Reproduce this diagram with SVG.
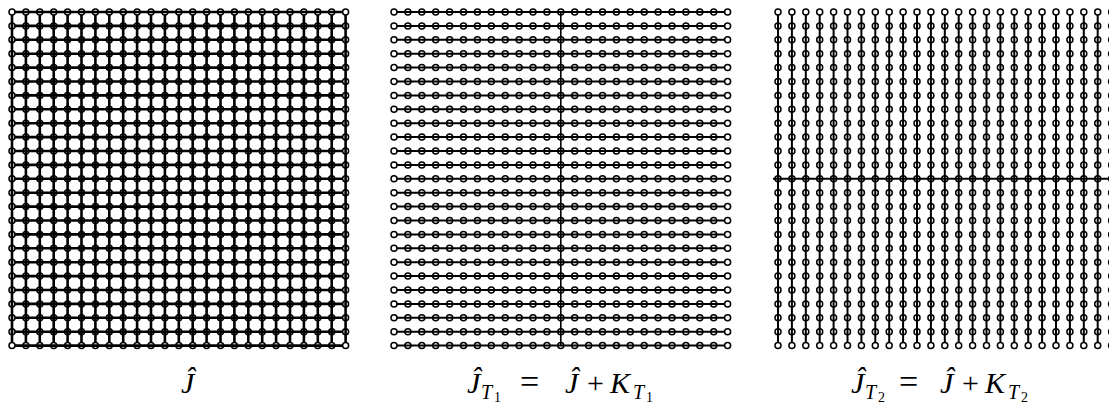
<svg xmlns="http://www.w3.org/2000/svg" xmlns:xlink="http://www.w3.org/1999/xlink" width="1109" height="404" viewBox="0 0 1109 404">
<style>
.nd{fill:#fff;stroke:#000;stroke-width:1.5}
.ln{fill:none;stroke:#000}
.m{font-family:"Liberation Serif","Times New Roman",serif;font-size:30px;fill:#000}
.i{font-style:italic}
.s{font-size:20px}
.ss{font-size:14px}
</style>
<defs>
<g id="row">
<circle class="nd" cx="0" cy="0" r="3"/><circle class="nd" cx="13.9" cy="0" r="3"/><circle class="nd" cx="27.8" cy="0" r="3"/><circle class="nd" cx="41.7" cy="0" r="3"/><circle class="nd" cx="55.6" cy="0" r="3"/><circle class="nd" cx="69.5" cy="0" r="3"/><circle class="nd" cx="83.4" cy="0" r="3"/><circle class="nd" cx="97.3" cy="0" r="3"/><circle class="nd" cx="111.2" cy="0" r="3"/><circle class="nd" cx="125.1" cy="0" r="3"/><circle class="nd" cx="139" cy="0" r="3"/><circle class="nd" cx="152.9" cy="0" r="3"/><circle class="nd" cx="166.8" cy="0" r="3"/><circle class="nd" cx="180.7" cy="0" r="3"/><circle class="nd" cx="194.6" cy="0" r="3"/><circle class="nd" cx="208.5" cy="0" r="3"/><circle class="nd" cx="222.4" cy="0" r="3"/><circle class="nd" cx="236.3" cy="0" r="3"/><circle class="nd" cx="250.2" cy="0" r="3"/><circle class="nd" cx="264.1" cy="0" r="3"/><circle class="nd" cx="278" cy="0" r="3"/><circle class="nd" cx="291.9" cy="0" r="3"/><circle class="nd" cx="305.8" cy="0" r="3"/><circle class="nd" cx="319.7" cy="0" r="3"/><circle class="nd" cx="333.6" cy="0" r="3"/>
</g>
<g id="lattice">
<use href="#row" y="0"/><use href="#row" y="13.9"/><use href="#row" y="27.8"/><use href="#row" y="41.7"/><use href="#row" y="55.6"/><use href="#row" y="69.5"/><use href="#row" y="83.4"/><use href="#row" y="97.3"/><use href="#row" y="111.2"/><use href="#row" y="125.1"/><use href="#row" y="139"/><use href="#row" y="152.9"/><use href="#row" y="166.8"/><use href="#row" y="180.7"/><use href="#row" y="194.6"/><use href="#row" y="208.5"/><use href="#row" y="222.4"/><use href="#row" y="236.3"/><use href="#row" y="250.2"/><use href="#row" y="264.1"/><use href="#row" y="278"/><use href="#row" y="291.9"/><use href="#row" y="305.8"/><use href="#row" y="319.7"/><use href="#row" y="333.6"/>
</g>
<path id="hl" class="ln" d="M3 0H330.6M3 13.9H330.6M3 27.8H330.6M3 41.7H330.6M3 55.6H330.6M3 69.5H330.6M3 83.4H330.6M3 97.3H330.6M3 111.2H330.6M3 125.1H330.6M3 139H330.6M3 152.9H330.6M3 166.8H330.6M3 180.7H330.6M3 194.6H330.6M3 208.5H330.6M3 222.4H330.6M3 236.3H330.6M3 250.2H330.6M3 264.1H330.6M3 278H330.6M3 291.9H330.6M3 305.8H330.6M3 319.7H330.6M3 333.6H330.6"/>
<path id="vl" class="ln" d="M0 3V330.6M13.9 3V330.6M27.8 3V330.6M41.7 3V330.6M55.6 3V330.6M69.5 3V330.6M83.4 3V330.6M97.3 3V330.6M111.2 3V330.6M125.1 3V330.6M139 3V330.6M152.9 3V330.6M166.8 3V330.6M180.7 3V330.6M194.6 3V330.6M208.5 3V330.6M222.4 3V330.6M236.3 3V330.6M250.2 3V330.6M264.1 3V330.6M278 3V330.6M291.9 3V330.6M305.8 3V330.6M319.7 3V330.6M333.6 3V330.6"/>
</defs>

<g id="grid-J" transform="translate(12,12)">
<use href="#lattice"/>
<use href="#hl" stroke-width="2.6"/>
<use href="#vl" stroke-width="2.6"/>
</g>

<g id="grid-JT1" transform="translate(394,12)">
<use href="#lattice"/>
<use href="#hl" stroke-width="2"/>
<path class="ln" stroke-width="1.6" d="M166.8 0V333.6"/>
</g>

<g id="grid-JT2" transform="translate(778,12)">
<use href="#lattice"/>
<use href="#vl" stroke-width="2"/>
<path class="ln" stroke-width="2" d="M-5 166.8H345"/>
</g>

<g id="labels" font-family="Liberation Serif, Times New Roman, serif">
<text class="m i" x="181" y="393">Ĵ</text>
<text class="m" y="393"><tspan class="i" x="467">Ĵ</tspan><tspan class="i s" x="481" y="399">T</tspan><tspan class="ss" x="494" y="402">1</tspan><tspan x="520" y="393" font-size="34">=</tspan><tspan class="i" x="565">Ĵ</tspan><tspan x="587">+</tspan><tspan class="i" x="610">K</tspan><tspan class="i s" x="633" y="399">T</tspan><tspan class="ss" x="646" y="402">1</tspan></text>
<text class="m" y="393"><tspan class="i" x="851">Ĵ</tspan><tspan class="i s" x="865" y="399">T</tspan><tspan class="ss" x="878" y="402">2</tspan><tspan x="899" y="393" font-size="34">=</tspan><tspan class="i" x="940">Ĵ</tspan><tspan x="962">+</tspan><tspan class="i" x="985">K</tspan><tspan class="i s" x="1008" y="399">T</tspan><tspan class="ss" x="1021" y="402">2</tspan></text>
</g>
</svg>
